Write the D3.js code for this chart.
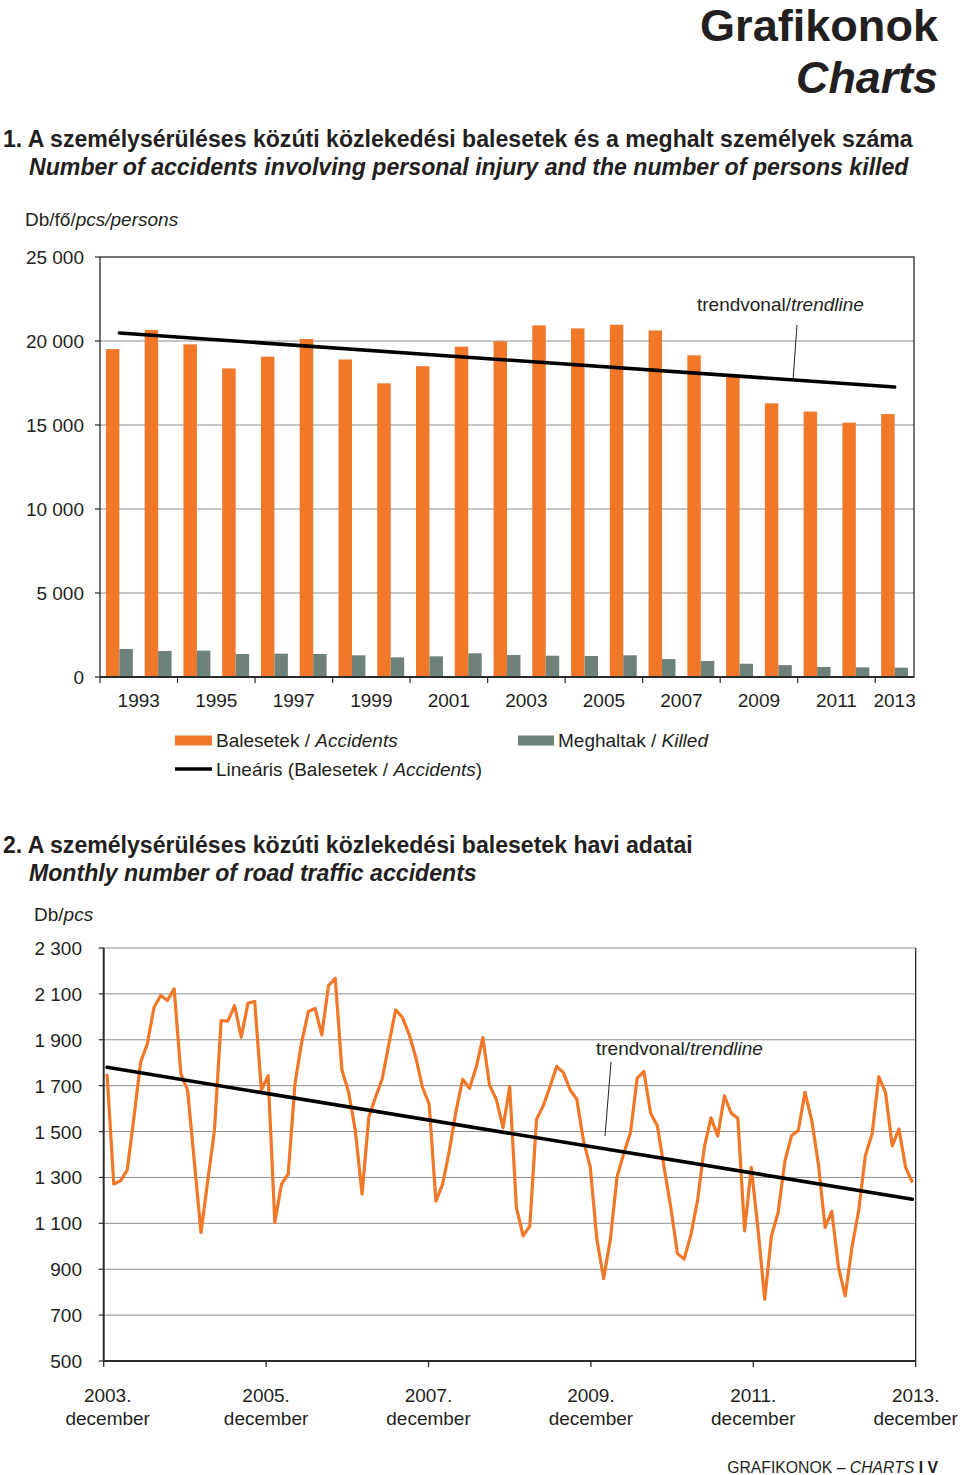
<!DOCTYPE html>
<html>
<head>
<meta charset="utf-8">
<script src="https://cdn.jsdelivr.net/npm/d3@7"></script>
<style>
body{margin:0;background:#fff}
svg{display:block}
text{font-family:"Liberation Sans",Arial,Helvetica,sans-serif;fill:#231f20}
</style>
</head>
<body>
<svg id="c" width="960" height="1475"></svg>
<script>
// ---------- DATA ----------
const years = ["1993","1994","1995","1996","1997","1998","1999","2000","2001","2002","2003",
               "2004","2005","2006","2007","2008","2009","2010","2011","2012","2013"];
const accidents = [19520,20660,19800,18370,19070,20120,18900,17480,18500,19660,19980,
                   20930,20750,20970,20630,19150,17860,16290,15800,15140,15650];
const killed = [1670,1550,1570,1370,1390,1370,1290,1170,1230,1410,1310,
                1270,1250,1290,1070,950,790,710,600,575,556];
const accTrend = [20480,17260];              // trendline at first / last year
const yTicks1 = [0,5000,10000,15000,20000,25000];

// monthly accidents, 2003 december ... 2013 december
const monthly = [1751,1271,1285,1332,1560,1802,1882,2042,2093,2071,
                 2122,1751,1680,1370,1060,1285,1504,1984,1981,2049,
                 1911,2059,2067,1681,1744,1104,1271,1315,1707,1889,
                 2023,2037,1921,2136,2168,1768,1671,1504,1227,1562,
                 1649,1729,1882,2030,1998,1925,1824,1693,1619,1197,
                 1270,1415,1590,1728,1688,1779,1910,1702,1641,1517,
                 1696,1168,1045,1088,1554,1612,1695,1784,1757,1682,
                 1641,1459,1345,1028,860,1030,1303,1405,1496,1733,
                 1762,1580,1525,1345,1170,968,944,1050,1200,1431,
                 1560,1480,1656,1580,1558,1067,1344,1075,769,1045,
                 1147,1370,1482,1504,1671,1550,1358,1082,1152,907,
                 784,995,1155,1395,1489,1739,1671,1438,1511,1344,1278];
const monthTrend = [1780,1205];              // trendline at first / last month
const yTicks2 = [500,700,900,1100,1300,1500,1700,1900,2100,2300];
const xTickIdx2 = [0,24,48,72,96,120];
const xTickLabels2 = ["2003.","2005.","2007.","2009.","2011.","2013."];

// ---------- STYLE ----------
const ORANGE = "#F07828", GREY = "#6f8279", GRID = "#8e8e8e", AXIS = "#2b2b2b";
const FS = 19;

const svg = d3.select("#c");
const fmt = d3.formatLocale({decimal:",",thousands:" ",grouping:[3],currency:["",""]}).format(",");

function fit(sel, w){
  const n = sel.node(); const fs = parseFloat(sel.attr("font-size"));
  const cw = n.getComputedTextLength();
  sel.attr("font-size", fs*w/cw);
}

// ---------- HEADER ----------
const g1 = svg.append("text").attr("x",938).attr("y",41).attr("text-anchor","end")
  .attr("font-weight","bold").attr("font-size",44).text("Grafikonok");
fit(g1,238);
const g2 = svg.append("text").attr("x",938).attr("y",93).attr("text-anchor","end")
  .attr("font-weight","bold").attr("font-style","italic").attr("font-size",46).text("Charts");
fit(g2,142);

const t1 = svg.append("text").attr("x",3).attr("y",147).attr("font-weight","bold").attr("font-size",21)
  .text("1. A személysérüléses közúti közlekedési balesetek és a meghalt személyek száma");
fit(t1,910);
const t1b = svg.append("text").attr("x",29).attr("y",175).attr("font-weight","bold").attr("font-style","italic").attr("font-size",21)
  .text("Number of accidents involving personal injury and the number of persons killed");
fit(t1b,880);

const u1 = svg.append("text").attr("x",25).attr("y",226).attr("font-size",FS);
u1.append("tspan").text("Db/fő/");
u1.append("tspan").attr("font-style","italic").text("pcs/persons");

// ---------- CHART 1 ----------
const L1 = 100, R1 = 914, T1 = 257, B1 = 677;
const y1 = d3.scaleLinear().domain([0,25000]).range([B1,T1]);
const x1 = d3.scaleBand().domain(years).range([L1,R1]).padding(0);
const xs = d3.scaleBand().domain(["acc","kil"]).range([0,x1.bandwidth()]).paddingInner(0).paddingOuter(0.44);

const c1 = svg.append("g");
c1.selectAll("line.grid").data(yTicks1.filter(d=>d>0 && d<25000)).enter().append("line")
  .attr("x1",L1).attr("x2",R1).attr("y1",d=>y1(d)).attr("y2",d=>y1(d))
  .attr("stroke",GRID).attr("stroke-width",1);

c1.selectAll("rect.acc").data(accidents).enter().append("rect")
  .attr("x",(d,i)=>x1(years[i])+xs("acc")).attr("width",xs.bandwidth())
  .attr("y",d=>y1(d)).attr("height",d=>y1(0)-y1(d)).attr("fill",ORANGE);
c1.selectAll("rect.kil").data(killed).enter().append("rect")
  .attr("x",(d,i)=>x1(years[i])+xs("kil")).attr("width",xs.bandwidth())
  .attr("y",d=>y1(d)).attr("height",d=>y1(0)-y1(d)).attr("fill",GREY);

// frame
c1.append("rect").attr("x",L1).attr("y",T1).attr("width",R1-L1).attr("height",B1-T1)
  .attr("fill","none").attr("stroke",AXIS).attr("stroke-width",1.3);
c1.append("line").attr("x1",L1).attr("x2",R1).attr("y1",B1).attr("y2",B1).attr("stroke",AXIS).attr("stroke-width",1.8);

// y ticks + labels
c1.selectAll("line.yt").data(yTicks1).enter().append("line")
  .attr("x1",L1-5).attr("x2",L1).attr("y1",d=>y1(d)).attr("y2",d=>y1(d)).attr("stroke",AXIS).attr("stroke-width",1.2);
c1.selectAll("text.yl").data(yTicks1).enter().append("text")
  .attr("x",84).attr("y",d=>y1(d)+7).attr("text-anchor","end").attr("font-size",FS).text(d=>fmt(d));

// x ticks at every 2nd category boundary
const xb = d3.range(0, years.length, 2);
c1.selectAll("line.xt").data(xb).enter().append("line")
  .attr("x1",d=>x1(years[d])).attr("x2",d=>x1(years[d])).attr("y1",B1).attr("y2",B1+6)
  .attr("stroke",AXIS).attr("stroke-width",1.2);
c1.selectAll("text.xl").data(xb).enter().append("text")
  .attr("x",d=>{const a=x1(years[d]); const e=(d+1<years.length)?x1(years[d+1])+x1.bandwidth():a+x1.bandwidth(); return (a+e)/2;})
  .attr("y",707).attr("text-anchor","middle").attr("font-size",FS).text(d=>years[d]);

// trendline
const cx1 = i => x1(years[i]) + x1.bandwidth()/2;
c1.append("line").attr("x1",cx1(0)).attr("x2",cx1(years.length-1))
  .attr("y1",y1(accTrend[0])).attr("y2",y1(accTrend[1]))
  .attr("stroke","#000").attr("stroke-width",3.6).attr("stroke-linecap","round");
c1.append("text").attr("x",697).attr("y",311).attr("font-size",FS)
  .call(t=>{t.append("tspan").text("trendvonal/"); t.append("tspan").attr("font-style","italic").text("trendline");});
c1.append("line").attr("x1",797).attr("y1",325).attr("x2",793).attr("y2",380).attr("stroke","#222").attr("stroke-width",1);

// legend
const lg = svg.append("g");
lg.append("rect").attr("x",175).attr("y",735.5).attr("width",37).attr("height",10).attr("fill",ORANGE);
lg.append("text").attr("x",216).attr("y",747).attr("font-size",FS)
  .call(t=>{t.append("tspan").text("Balesetek / "); t.append("tspan").attr("font-style","italic").text("Accidents");});
lg.append("rect").attr("x",518).attr("y",735.5).attr("width",36).attr("height",10).attr("fill",GREY);
lg.append("text").attr("x",558).attr("y",747).attr("font-size",FS)
  .call(t=>{t.append("tspan").text("Meghaltak / "); t.append("tspan").attr("font-style","italic").text("Killed");});
lg.append("line").attr("x1",175).attr("x2",212).attr("y1",769).attr("y2",769).attr("stroke","#000").attr("stroke-width",3.6);
lg.append("text").attr("x",216).attr("y",776).attr("font-size",FS)
  .call(t=>{t.append("tspan").text("Lineáris (Balesetek / "); t.append("tspan").attr("font-style","italic").text("Accidents");
            t.append("tspan").text(")");});

// ---------- CHART 2 ----------
const t2 = svg.append("text").attr("x",3).attr("y",853).attr("font-weight","bold").attr("font-size",21)
  .text("2. A személysérüléses közúti közlekedési balesetek havi adatai");
fit(t2,690);
const t2b = svg.append("text").attr("x",29).attr("y",881).attr("font-weight","bold").attr("font-style","italic").attr("font-size",21)
  .text("Monthly number of road traffic accidents");
fit(t2b,448);
const u2 = svg.append("text").attr("x",34).attr("y",921).attr("font-size",FS);
u2.append("tspan").text("Db/");
u2.append("tspan").attr("font-style","italic").text("pcs");

const L2 = 103.7, R2 = 915.7, T2 = 948, B2 = 1361;
const y2 = d3.scaleLinear().domain([500,2300]).range([B2,T2]);
const x2 = d3.scaleBand().domain(d3.range(monthly.length)).range([L2,R2]).padding(0);
const xt2 = d3.scaleLinear().domain([0,monthly.length-1]).range([L2,R2]);
const c2 = svg.append("g");

c2.selectAll("line.grid").data(yTicks2.filter(d=>d>500)).enter().append("line")
  .attr("x1",L2).attr("x2",R2).attr("y1",d=>y2(d)).attr("y2",d=>y2(d))
  .attr("stroke",GRID).attr("stroke-width",1);
c2.append("line").attr("x1",R2).attr("x2",R2).attr("y1",T2).attr("y2",B2).attr("stroke",AXIS).attr("stroke-width",1.3);

const px = i => x2(i) + x2.bandwidth()/2;
c2.append("path").datum(monthly)
  .attr("d", d3.line().x((d,i)=>px(i)).y(d=>y2(d)))
  .attr("fill","none").attr("stroke",ORANGE).attr("stroke-width",3.2).attr("stroke-linejoin","round");

c2.append("line").attr("x1",px(0)).attr("x2",px(monthly.length-1))
  .attr("y1",y2(monthTrend[0])).attr("y2",y2(monthTrend[1]))
  .attr("stroke","#000").attr("stroke-width",3.6).attr("stroke-linecap","round");

c2.append("line").attr("x1",L2).attr("x2",L2).attr("y1",T2).attr("y2",B2).attr("stroke",AXIS).attr("stroke-width",2);
c2.append("line").attr("x1",L2).attr("x2",R2).attr("y1",B2).attr("y2",B2).attr("stroke",AXIS).attr("stroke-width",2);

c2.selectAll("line.yt").data(yTicks2).enter().append("line")
  .attr("x1",L2-5).attr("x2",L2).attr("y1",d=>y2(d)).attr("y2",d=>y2(d)).attr("stroke",AXIS).attr("stroke-width",1.2);
c2.selectAll("text.yl").data(yTicks2).enter().append("text")
  .attr("x",82).attr("y",d=>y2(d)+7).attr("text-anchor","end").attr("font-size",FS).text(d=>fmt(d));

c2.selectAll("line.xt").data(xTickIdx2).enter().append("line")
  .attr("x1",d=>xt2(d)).attr("x2",d=>xt2(d)).attr("y1",B2).attr("y2",B2+6).attr("stroke",AXIS).attr("stroke-width",1.3);
const xl = c2.selectAll("text.xl").data(xTickIdx2).enter().append("text")
  .attr("text-anchor","middle").attr("font-size",FS);
xl.append("tspan").attr("x",(d,i)=>xt2(d)+(i===0?4:0)).attr("y",1402).text((d,i)=>xTickLabels2[i]);
xl.append("tspan").attr("x",(d,i)=>xt2(d)+(i===0?4:0)).attr("y",1425).text("december");

c2.append("text").attr("x",596).attr("y",1055).attr("font-size",FS)
  .call(t=>{t.append("tspan").text("trendvonal/"); t.append("tspan").attr("font-style","italic").text("trendline");});
c2.append("line").attr("x1",611).attr("y1",1062).attr("x2",605).attr("y2",1136).attr("stroke","#222").attr("stroke-width",1);

// ---------- FOOTER ----------
const ft = svg.append("text").attr("x",938).attr("y",1473).attr("text-anchor","end").attr("font-size",16);
ft.append("tspan").text("GRAFIKONOK – ");
ft.append("tspan").attr("font-style","italic").text("CHARTS");
ft.append("tspan").attr("font-weight","bold").text("  I  V");
fit(ft,211);
</script>
</body>
</html>
